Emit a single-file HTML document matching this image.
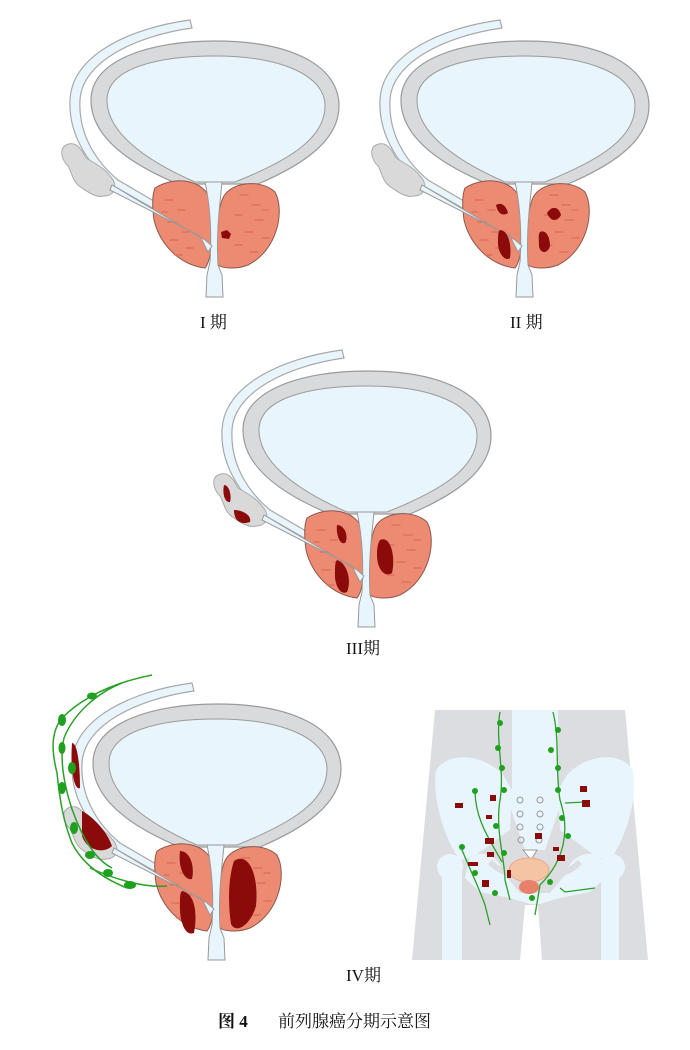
<!DOCTYPE html>
<html><head><meta charset="utf-8"><style>
body{margin:0;background:#fff;width:690px;height:1050px;overflow:hidden}
svg{position:absolute;left:0;top:0}
.t{font-family:"Liberation Serif","Noto Serif CJK SC",serif;font-size:17px;fill:#111}
</style></head><body>
<svg width="690" height="1050" viewBox="0 0 690 1050">
<defs>
<g id="base">
 <path d="M190,20 C130,28 72,55 70,100 C68,140 95,170 112,185 L205,238 L207,232 L118,180 C100,165 78,138 80,100 C82,62 135,36 192,28 Z" fill="#e8f5fd" stroke="#a8a8a8" stroke-width="1.2"/>
 <path d="M66,145 C76,140 82,150 86,158 C96,164 104,168 110,176 C118,184 116,196 104,196 C96,198 88,192 82,188 C72,182 72,172 68,166 C60,158 60,148 66,145 Z" fill="#d9d9d9" stroke="#aaa" stroke-width="1"/>
 <path d="M178,184 C120,160 91,132 91,100 C91,60 150,41 215,41 C292,41 339,66 339,106 C339,142 300,166 258,184 Z" fill="#d9dadc" stroke="#9a9a9a" stroke-width="1.2"/>
 <path d="M195,182 C140,158 107,130 107,100 C107,68 158,56 215,56 C280,56 325,75 325,106 C325,138 290,160 235,182 Z" fill="#e8f5fd" stroke="#9a9a9a" stroke-width="1"/>
 <path d="M155,188 C175,175 205,180 210,200 C215,225 212,260 205,268 C180,265 160,245 154,220 C152,205 152,195 155,188 Z" fill="#ec8a72" stroke="#8a5a50" stroke-width="1"/>
 <path d="M222,200 C228,182 260,178 275,192 C285,210 278,250 248,265 C235,270 222,268 218,265 C215,245 216,218 222,200 Z" fill="#ec8a72" stroke="#8a5a50" stroke-width="1"/>
 <g stroke="#e0705c" stroke-width="1.5" stroke-linecap="round">
  <path d="M165,200h8M178,210h7M168,222h8M182,232h7M170,240h8M186,248h7M175,255h7M162,212h5"/>
  <path d="M240,195h8M252,205h8M235,215h7M255,220h8M245,232h8M262,238h7M235,245h7M250,252h8M262,210h6"/>
 </g>
 <path d="M205,182 L222,182 C220,205 216,230 218,265 L222,275 L223,297 L206,297 L207,275 L210,262 C212,230 210,205 205,182 Z" fill="#e8f5fd" stroke="#999" stroke-width="1"/>
 <path d="M112,185 L205,240 L212,246 L208,252 L200,236 L110,190 Z" fill="#e8f5fd" stroke="#999" stroke-width="1"/>
</g>
</defs>
<g><use href="#base"/>
<path d="M221,232 l6,-2 4,4 -2,5 -7,-1z" fill="#8b0a0a"/></g>
<g transform="translate(310,0)"><use href="#base"/>
<path d="M186,205 c5,-3 10,0 12,8 -4,3 -10,2 -12,-8z M190,230 c8,0 12,15 10,28 -5,4 -12,-5 -12,-15 0,-6 0,-12 2,-13z M237,213 c5,-8 12,-6 14,2 -3,6 -10,8 -14,-2z M230,232 c6,-3 10,5 10,14 -2,8 -10,8 -11,0 0,-6 -1,-12 1,-14z" fill="#8b0a0a"/></g>
<g transform="translate(152,330)"><use href="#base"/>
<path d="M72,155 c5,0 8,10 6,17 -5,1 -8,-8 -6,-17z M82,180 c8,0 18,5 16,12 -8,3 -16,0 -16,-12z M185,195 c8,0 12,12 8,18 -6,2 -9,-10 -8,-18z M185,230 c10,3 15,20 10,32 -8,4 -13,-10 -12,-20 0,-5 0,-10 2,-12z M228,210 c10,-5 16,15 12,33 -8,5 -15,-5 -15,-18 0,-8 1,-12 3,-15z" fill="#8b0a0a"/></g>
<g transform="translate(2,663)"><use href="#base"/>
<path d="M70,80 c6,0 8,25 8,45 -6,3 -10,-20 -8,-45z M80,148 c10,5 25,20 30,35 -8,8 -25,5 -30,-10z M178,188 c10,0 15,15 12,28 -8,2 -14,-12 -12,-28z M180,228 c12,2 16,20 12,42 -10,4 -15,-15 -14,-30 0,-6 0,-10 2,-12z M232,198 c15,-10 25,15 22,45 -6,20 -20,28 -25,18 -3,-20 -3,-45 3,-63z" fill="#8b0a0a"/>
<g fill="none" stroke="#2aa02a" stroke-width="1.5">
<path d="M150,12 C110,20 80,35 60,55 C48,70 50,90 55,110 C58,140 62,160 70,180 C80,200 100,215 125,225"/>
<path d="M120,20 C95,30 72,50 62,75 C56,100 65,140 80,170 C90,190 100,200 110,205"/>
<path d="M88,205 C110,215 140,225 165,223"/>
</g>
<g fill="#1fa01f"><ellipse cx="90" cy="33" rx="5" ry="3.5"/><ellipse cx="60" cy="57" rx="4" ry="6"/><ellipse cx="60" cy="85" rx="3.5" ry="6"/><ellipse cx="70" cy="105" rx="4" ry="6"/><ellipse cx="60" cy="125" rx="4" ry="6"/><ellipse cx="72" cy="165" rx="4" ry="6"/><ellipse cx="88" cy="192" rx="5" ry="4"/><ellipse cx="106" cy="210" rx="5" ry="4"/><ellipse cx="128" cy="222" rx="6" ry="4"/></g>
</g>
<!-- pelvis -->
<g>
<path d="M435,710 L625,710 L648,960 L542,960 L538,905 L525,905 L520,960 L412,960 Z" fill="#dcdde1"/>
<rect x="512" y="710" width="46" height="90" fill="#e8f5fd"/>
<path d="M436,770 C450,750 485,755 503,775 L512,790 L510,830 C495,840 485,850 470,858 L460,860 C445,840 432,800 436,770 Z" fill="#e8f5fd"/>
<path d="M633,770 C620,750 585,755 567,775 L558,790 L560,830 C575,840 585,850 600,858 L610,860 C625,840 638,800 633,770 Z" fill="#e8f5fd"/>
<path d="M505,792 L565,792 L545,850 L525,850 Z" fill="#e8f5fd"/>
<path d="M470,855 C490,850 500,860 505,875 L520,893 L550,893 L565,875 C570,860 580,850 600,855 L605,878 L590,892 L560,898 L540,904 L530,904 L510,898 L480,892 L465,878 Z" fill="#e8f5fd"/>
<circle cx="450" cy="867" r="13" fill="#e8f5fd"/><circle cx="612" cy="867" r="13" fill="#e8f5fd"/>
<rect x="442" y="865" width="20" height="95" fill="#e8f5fd"/>
<rect x="601" y="865" width="18" height="95" fill="#e8f5fd"/>
<path d="M490,862 C500,872 515,878 520,870" fill="none" stroke="#dcdde1" stroke-width="6"/>
<path d="M580,862 C570,872 555,878 550,870" fill="none" stroke="#dcdde1" stroke-width="6"/>
<g fill="none" stroke="#999" stroke-width="1"><circle cx="520" cy="800" r="3"/><circle cx="540" cy="800" r="3"/><circle cx="520" cy="814" r="3"/><circle cx="540" cy="814" r="3"/><circle cx="520" cy="827" r="3"/><circle cx="540" cy="827" r="3"/><circle cx="521" cy="840" r="3"/><circle cx="539" cy="840" r="3"/></g>
<path d="M523,850 L537,850 L531,860 Z" fill="#fff" stroke="#999"/>
<ellipse cx="529" cy="870" rx="20" ry="12" fill="#f5c4a5" stroke="#e8a888"/>
<ellipse cx="529" cy="887" rx="10" ry="7" fill="#e8806a"/>
<g fill="none" stroke="#2aa02a" stroke-width="1.3">
<path d="M500,712 C495,740 505,770 500,800 C495,830 505,860 505,880 L510,900"/>
<path d="M553,712 C560,740 555,770 560,800 C570,830 565,860 540,885 L535,915"/>
<path d="M475,790 C475,820 490,840 502,862"/><path d="M460,845 C470,870 480,890 485,905 L490,925"/>
<path d="M560,888 L565,892 L595,888"/><path d="M565,803 L585,802"/>
</g>
<g fill="#1fa01f"><circle cx="500" cy="723" r="3"/><circle cx="498" cy="748" r="3"/><circle cx="502" cy="768" r="3"/><circle cx="504" cy="790" r="3"/><circle cx="496" cy="826" r="3"/><circle cx="504" cy="853" r="3"/><circle cx="558" cy="730" r="3"/><circle cx="551" cy="750" r="3"/><circle cx="558" cy="768" r="3"/><circle cx="558" cy="790" r="3"/><circle cx="562" cy="818" r="3"/><circle cx="568" cy="836" r="3"/><circle cx="550" cy="882" r="3"/><circle cx="475" cy="791" r="3"/><circle cx="462" cy="847" r="3"/><circle cx="475" cy="873" r="3"/><circle cx="495" cy="893" r="3"/><circle cx="532" cy="898" r="3"/></g>
<g fill="#8b0a0a"><rect x="455" y="803" width="8" height="5"/><rect x="490" y="795" width="6" height="6"/><rect x="486" y="815" width="6" height="4"/><rect x="485" y="838" width="9" height="6"/><rect x="487" y="852" width="7" height="5"/><rect x="468" y="862" width="10" height="4"/><rect x="482" y="880" width="7" height="7"/><rect x="580" y="786" width="7" height="6"/><rect x="582" y="800" width="8" height="7"/><rect x="535" y="833" width="7" height="6"/><rect x="553" y="847" width="6" height="4"/><rect x="557" y="855" width="8" height="6"/><rect x="507" y="870" width="4" height="8"/></g>
</g>
<text class="t" x="200" y="328">I 期</text>
<text class="t" x="510" y="328">II 期</text>
<text class="t" x="346" y="654">III期</text>
<text class="t" x="346" y="981">IV期</text>
<text class="t" x="218" y="1027" style="font-weight:bold">图 4</text>
<text class="t" x="278" y="1027">前列腺癌分期示意图</text>
</svg>
</body></html>
